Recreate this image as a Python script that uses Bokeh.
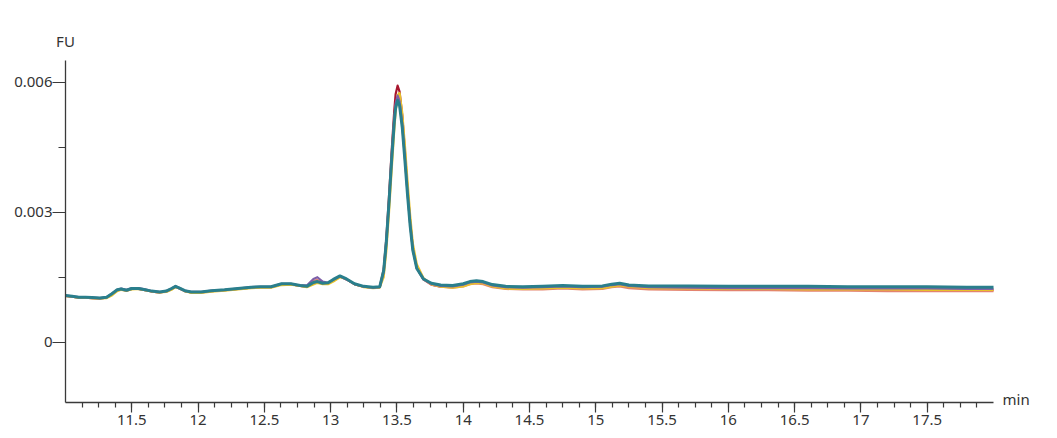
from bokeh.plotting import figure
from bokeh.models import FixedTicker, PrintfTickFormatter, LinearAxis, Range1d
from bokeh.embed import file_html
from bokeh.resources import INLINE

# retention time (min)
time_min = [
    11.00, 11.05, 11.10, 11.15, 11.20, 11.26, 11.31, 11.35, 11.39, 11.42,
    11.46, 11.50, 11.55, 11.60, 11.65, 11.71, 11.76, 11.80, 11.83, 11.86,
    11.90, 11.95, 12.02, 12.10, 12.20, 12.30, 12.40, 12.47, 12.55, 12.63,
    12.70, 12.77, 12.82, 12.87, 12.90, 12.94, 12.98, 13.02, 13.07, 13.12,
    13.18, 13.25, 13.32, 13.37, 13.40, 13.42, 13.44, 13.46, 13.48, 13.49,
    13.505, 13.52, 13.54, 13.56, 13.58, 13.60, 13.62, 13.65, 13.70, 13.76,
    13.83, 13.92, 14.00, 14.05, 14.10, 14.15, 14.22, 14.32, 14.45, 14.60,
    14.75, 14.90, 15.05, 15.12, 15.18, 15.25, 15.40, 15.70, 16.00, 16.30,
    16.60, 16.90, 17.20, 17.50, 17.80, 18.00,
]

fu_red = [
    0.00107, 0.00105, 0.00103, 0.00103, 0.00102, 0.00101, 0.00103, 0.00111, 0.00120, 0.00122,
    0.00119, 0.00123, 0.00123, 0.00120, 0.00117, 0.00115, 0.00117, 0.00123, 0.00128, 0.00124,
    0.00118, 0.00115, 0.00115, 0.00118, 0.00120, 0.00123, 0.00126, 0.00127, 0.00127, 0.00134,
    0.00134, 0.00130, 0.00128, 0.00139, 0.00142, 0.00136, 0.00136, 0.00144, 0.00152, 0.00145,
    0.00134, 0.00128, 0.00126, 0.00127, 0.00168, 0.00240, 0.00335, 0.00440, 0.00535, 0.00572,
    0.00592, 0.00578, 0.00524, 0.00442, 0.00355, 0.00278, 0.00218, 0.00172, 0.00145, 0.00133,
    0.00128, 0.00127, 0.00131, 0.00136, 0.00138, 0.00136, 0.00129, 0.00125, 0.00124, 0.00125,
    0.00127, 0.00125, 0.00126, 0.00130, 0.00132, 0.00128, 0.00125, 0.00124, 0.00123, 0.00123,
    0.00123, 0.00122, 0.00122, 0.00121, 0.00121, 0.00120,
]

fu_salmon = [
    0.00107, 0.00105, 0.00103, 0.00103, 0.00102, 0.00101, 0.00103, 0.00111, 0.00120, 0.00122,
    0.00120, 0.00124, 0.00124, 0.00121, 0.00117, 0.00115, 0.00117, 0.00123, 0.00128, 0.00124,
    0.00118, 0.00115, 0.00115, 0.00118, 0.00120, 0.00123, 0.00126, 0.00127, 0.00127, 0.00134,
    0.00134, 0.00130, 0.00129, 0.00141, 0.00144, 0.00137, 0.00136, 0.00143, 0.00151, 0.00145,
    0.00134, 0.00128, 0.00126, 0.00127, 0.00164, 0.00234, 0.00325, 0.00424, 0.00512, 0.00545,
    0.00563, 0.00550, 0.00500, 0.00424, 0.00344, 0.00271, 0.00214, 0.00171, 0.00145, 0.00133,
    0.00128, 0.00126, 0.00129, 0.00134, 0.00136, 0.00134, 0.00127, 0.00123, 0.00122, 0.00122,
    0.00124, 0.00122, 0.00123, 0.00127, 0.00129, 0.00125, 0.00122, 0.00121, 0.00120, 0.00120,
    0.00119, 0.00119, 0.00118, 0.00118, 0.00118, 0.00118,
]

fu_yellow = [
    0.00107, 0.00105, 0.00103, 0.00103, 0.00102, 0.00101, 0.00102, 0.00108, 0.00118, 0.00121,
    0.00119, 0.00122, 0.00123, 0.00120, 0.00117, 0.00115, 0.00116, 0.00121, 0.00127, 0.00125,
    0.00118, 0.00114, 0.00114, 0.00117, 0.00119, 0.00122, 0.00125, 0.00126, 0.00126, 0.00132,
    0.00133, 0.00130, 0.00127, 0.00133, 0.00137, 0.00134, 0.00134, 0.00140, 0.00150, 0.00146,
    0.00134, 0.00127, 0.00125, 0.00126, 0.00150, 0.00210, 0.00298, 0.00395, 0.00490, 0.00530,
    0.00570, 0.00575, 0.00530, 0.00455, 0.00372, 0.00293, 0.00228, 0.00180, 0.00148, 0.00134,
    0.00128, 0.00126, 0.00129, 0.00134, 0.00137, 0.00136, 0.00129, 0.00124, 0.00123, 0.00124,
    0.00126, 0.00124, 0.00125, 0.00128, 0.00131, 0.00128, 0.00125, 0.00124, 0.00123, 0.00123,
    0.00122, 0.00122, 0.00122, 0.00121, 0.00121, 0.00121,
]

fu_purple = [
    0.00108, 0.00106, 0.00104, 0.00104, 0.00103, 0.00102, 0.00104, 0.00112, 0.00121, 0.00124,
    0.00121, 0.00125, 0.00125, 0.00122, 0.00118, 0.00116, 0.00118, 0.00124, 0.00129, 0.00125,
    0.00119, 0.00116, 0.00116, 0.00119, 0.00121, 0.00124, 0.00127, 0.00128, 0.00128, 0.00135,
    0.00135, 0.00131, 0.00131, 0.00146, 0.00150, 0.00140, 0.00137, 0.00144, 0.00152, 0.00145,
    0.00134, 0.00128, 0.00126, 0.00127, 0.00162, 0.00230, 0.00322, 0.00425, 0.00515, 0.00550,
    0.00569, 0.00556, 0.00505, 0.00428, 0.00346, 0.00272, 0.00214, 0.00171, 0.00146, 0.00135,
    0.00130, 0.00129, 0.00133, 0.00138, 0.00140, 0.00138, 0.00131, 0.00127, 0.00126, 0.00127,
    0.00129, 0.00127, 0.00128, 0.00132, 0.00134, 0.00130, 0.00127, 0.00126, 0.00125, 0.00125,
    0.00125, 0.00124, 0.00124, 0.00124, 0.00123, 0.00123,
]

fu_teal = [
    0.00108, 0.00106, 0.00104, 0.00104, 0.00103, 0.00102, 0.00104, 0.00112, 0.00121, 0.00123,
    0.00120, 0.00124, 0.00124, 0.00121, 0.00118, 0.00116, 0.00118, 0.00124, 0.00129, 0.00125,
    0.00119, 0.00116, 0.00116, 0.00119, 0.00121, 0.00124, 0.00127, 0.00128, 0.00128, 0.00135,
    0.00135, 0.00131, 0.00129, 0.00138, 0.00140, 0.00136, 0.00137, 0.00145, 0.00153, 0.00146,
    0.00135, 0.00129, 0.00127, 0.00128, 0.00165, 0.00232, 0.00322, 0.00420, 0.00508, 0.00540,
    0.00558, 0.00546, 0.00496, 0.00420, 0.00340, 0.00268, 0.00212, 0.00170, 0.00146, 0.00136,
    0.00132, 0.00131, 0.00135, 0.00140, 0.00142, 0.00140, 0.00133, 0.00129, 0.00128, 0.00129,
    0.00131, 0.00129, 0.00130, 0.00134, 0.00136, 0.00132, 0.00130, 0.00130, 0.00129, 0.00129,
    0.00129, 0.00128, 0.00128, 0.00128, 0.00127, 0.00127,
]

x_ticks = [11.5, 12, 12.5, 13, 13.5, 14, 14.5, 15, 15.5, 16, 16.5, 17, 17.5]
y_ticks = [0, 0.003, 0.006]
y_minor = [0.0015, 0.0045]
y_unit = "FU"
x_unit = "min"

FONT = "Noto Sans"
AX = "#3a3a3a"
TXT = "#333333"
FS = "15px"

p = figure(width=1057, height=436, output_backend="svg", toolbar_location=None,
           x_range=Range1d(11, 18), y_range=Range1d(-0.00139, 0.0065),
           min_border_left=65, min_border_right=64, min_border_top=60,
           min_border_bottom=34)
p.xgrid.visible = False
p.ygrid.visible = False
p.outline_line_color = None
p.background_fill_color = "white"
p.border_fill_color = "white"

series = [
    (fu_red, "#a8172e", 2.2),
    (fu_salmon, "#e3836f", 2.2),
    (fu_yellow, "#e8c22a", 2.2),
    (fu_purple, "#7e5fa8", 2.2),
    (fu_teal, "#2a7f8c", 3.0),
]
for ys, col, w in series:
    p.line(time_min, ys, line_color=col, line_width=w, line_join="round", line_cap="round")

x_minor = [11 + 0.125 * i for i in range(1, 56)]
xa = p.xaxis[0]
xa.ticker = FixedTicker(ticks=x_ticks, minor_ticks=x_minor)
xa.formatter = PrintfTickFormatter(format="%g")
xa.major_tick_in = 0
xa.major_tick_out = 10
xa.minor_tick_in = 0
xa.minor_tick_out = 5
xa.major_label_standoff = 2

ya = p.yaxis[0]
ya.ticker = FixedTicker(ticks=y_ticks, minor_ticks=y_minor)
ya.formatter = PrintfTickFormatter(format="%g")
ya.major_tick_in = 0
ya.major_tick_out = 13
ya.minor_tick_in = 0
ya.minor_tick_out = 7
ya.major_label_standoff = 0

for ax in (xa, ya):
    ax.axis_line_color = AX
    ax.axis_line_width = 1.3
    ax.major_tick_line_color = AX
    ax.minor_tick_line_color = AX
    ax.major_tick_line_width = 1.2
    ax.minor_tick_line_width = 1.2
    ax.major_label_text_font = FONT
    ax.major_label_text_font_size = FS
    ax.major_label_text_color = TXT

# unit captions, drawn as bare tick labels of two line-less axes
fu_axis = LinearAxis(ticker=FixedTicker(ticks=[11], minor_ticks=[]),
                     formatter=PrintfTickFormatter(format=y_unit),
                     axis_line_color=None, major_tick_line_color=None,
                     minor_tick_line_color=None, major_tick_out=0, major_tick_in=0,
                     major_label_standoff=10, major_label_text_font=FONT,
                     major_label_text_font_size=FS, major_label_text_color=TXT)
p.add_layout(fu_axis, "above")

min_axis = LinearAxis(ticker=FixedTicker(ticks=[-0.00132], minor_ticks=[]),
                      formatter=PrintfTickFormatter(format=x_unit),
                      axis_line_color=None, major_tick_line_color=None,
                      minor_tick_line_color=None, major_tick_out=0, major_tick_in=0,
                      major_label_standoff=9, major_label_text_font=FONT,
                      major_label_text_font_size=FS, major_label_text_color=TXT)
p.add_layout(min_axis, "right")

open("out.html", "w").write(file_html(p, INLINE))
